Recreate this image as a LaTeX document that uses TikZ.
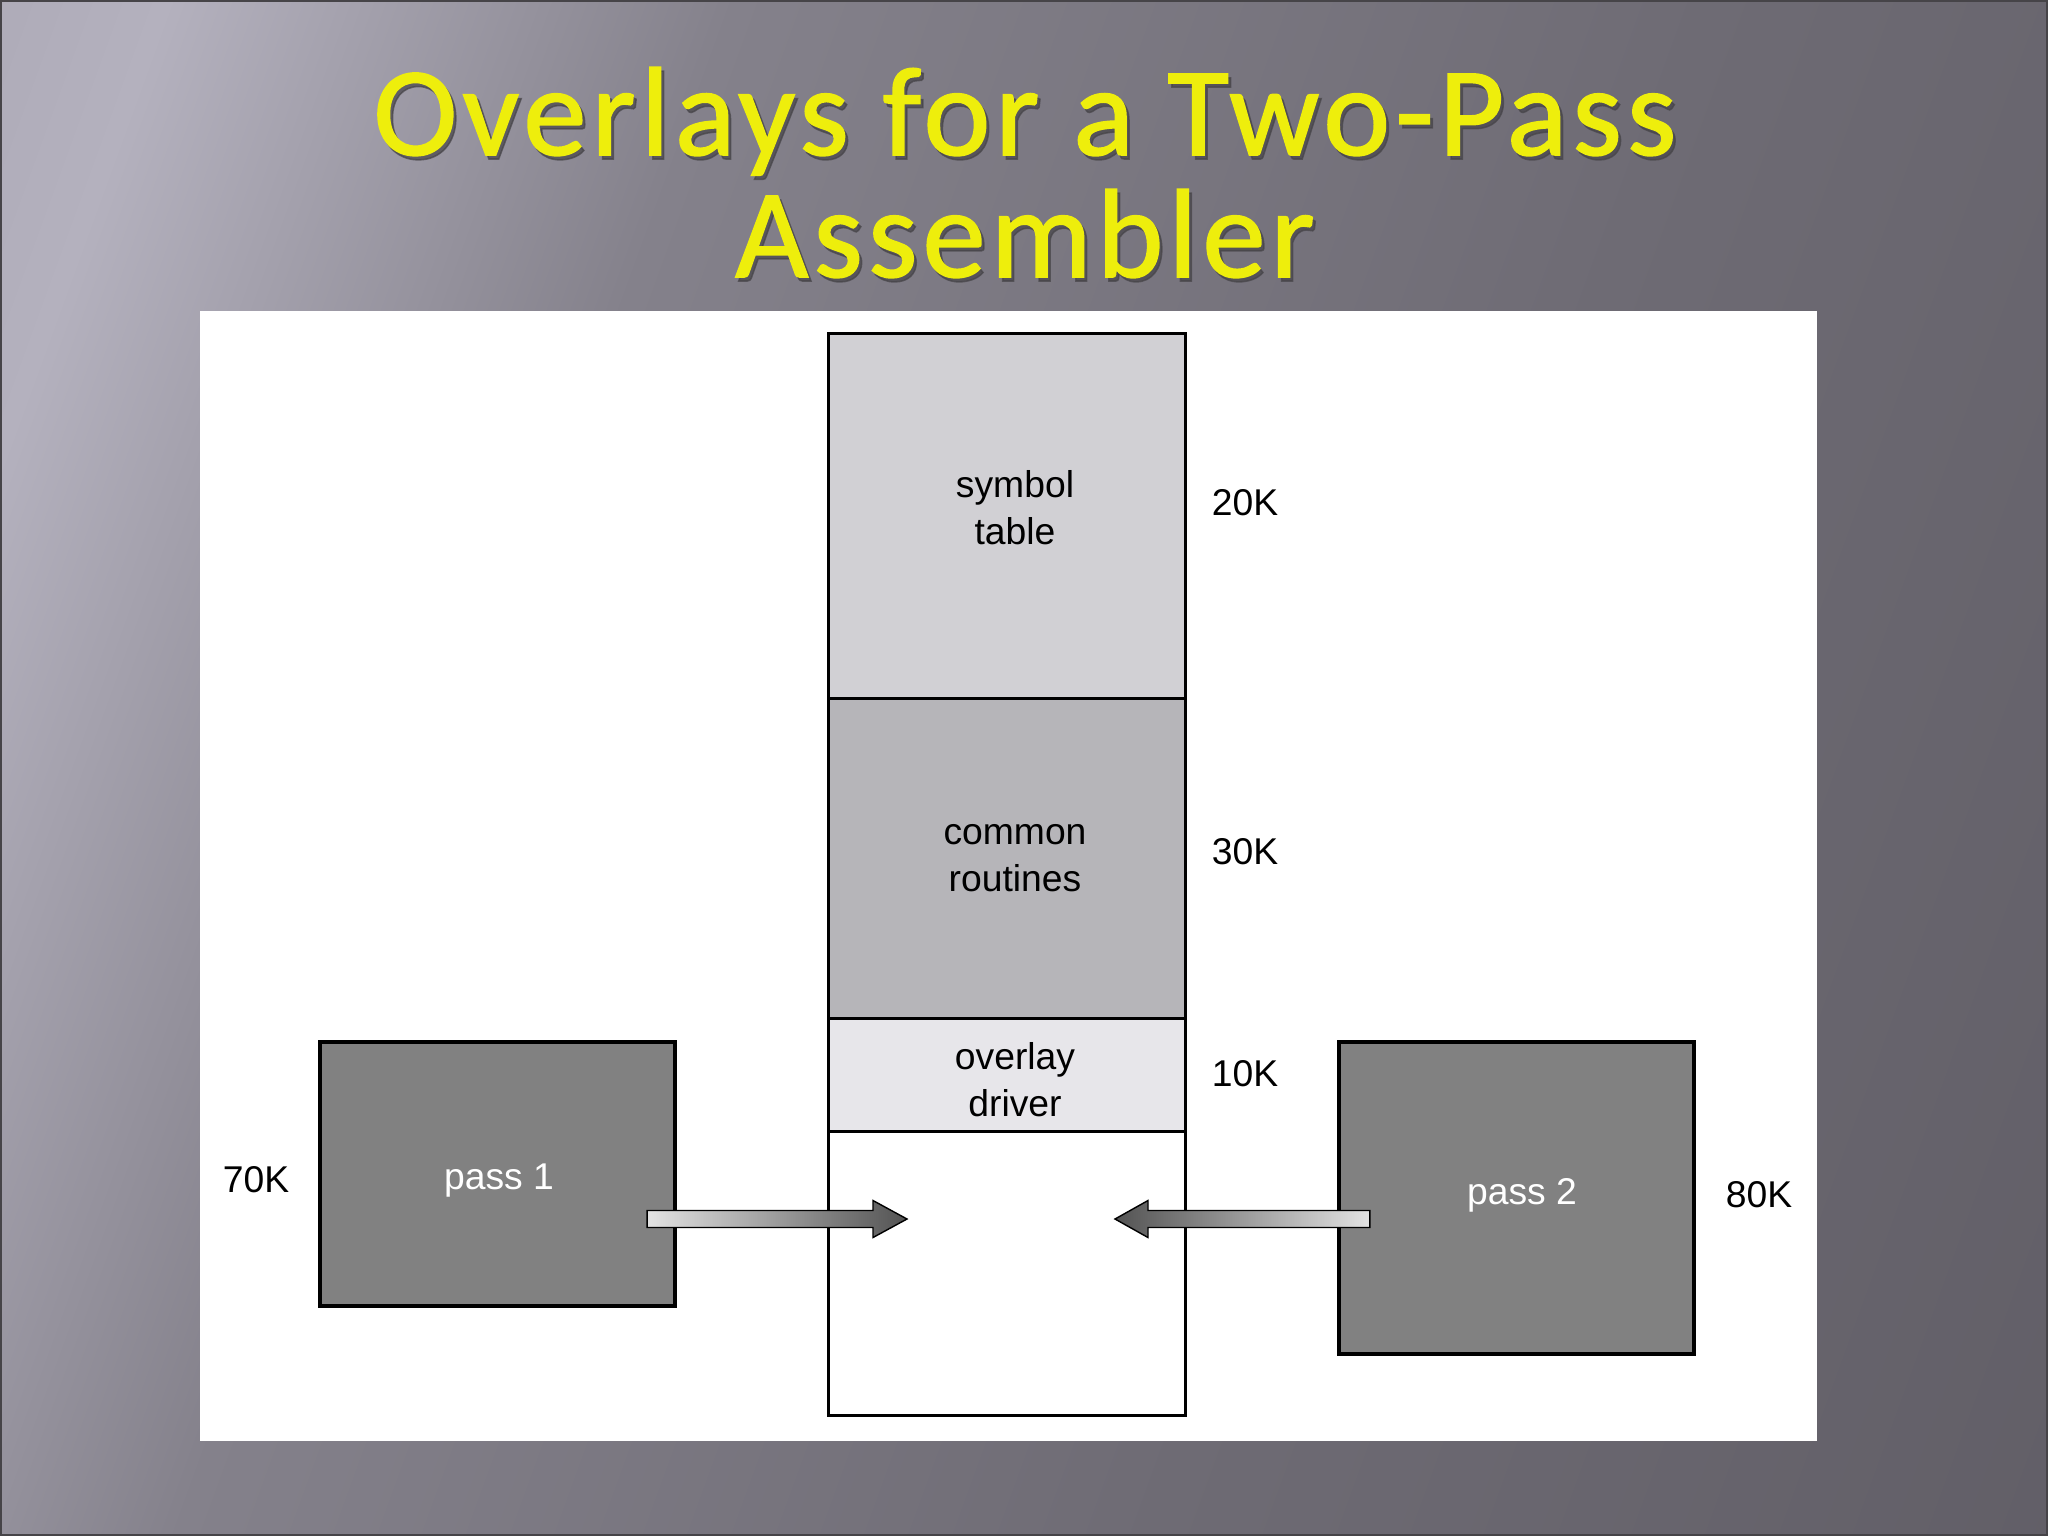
\documentclass[tikz,border=0pt]{standalone}
\usepackage{fontspec}
\setmainfont{Liberation Sans}
\newfontfamily\titlefont[LetterSpace=4,FakeBold=1.2]{Carlito}
\usetikzlibrary{calc}
\definecolor{bgA}{RGB}{150,147,160}
\definecolor{bgB}{RGB}{180,177,190}
\definecolor{bgC}{RGB}{132,129,139}
\definecolor{bgD}{RGB}{110,107,116}
\definecolor{bgE}{RGB}{88,85,93}
\definecolor{symcol}{RGB}{209,208,212}
\definecolor{comcol}{RGB}{182,181,185}
\definecolor{ovlcol}{RGB}{231,230,234}
\definecolor{passcol}{RGB}{129,129,129}
\definecolor{ttlyellow}{RGB}{238,238,12}
\definecolor{ttlshadow}{RGB}{70,68,72}
\pgfdeclarehorizontalshading{bgsh}{100bp}{color(0bp)=(bgA); color(22bp)=(bgB); color(36bp)=(bgC); color(60bp)=(bgD); color(100bp)=(bgE)}
\tikzset{
  seg/.style={draw=black, line width=0.85pt, minimum width=3.56cm, inner sep=0pt, outer sep=0pt},
  passbox/.style={draw=black, line width=1pt, fill=passcol, minimum width=3.55cm, inner sep=0pt, outer sep=0pt},
  lbl/.style={font=\fontsize{10.6}{13.4}\selectfont, align=center, text=black, inner sep=0pt},
  ttl/.style={font=\titlefont\fontsize{36}{40}\selectfont, anchor=base, inner sep=0pt},
  bigarrow/.style={draw=black, line width=0.4pt}
}
\begin{document}
\begin{tikzpicture}[x=0.01cm,y=-0.01cm]
\useasboundingbox (0,0) rectangle (2048,1536);
% background
\shade[shading=bgsh, shading angle=-20] (0,0) rectangle (2048,1536);
\draw[line width=0.6pt, ttlshadow] (1,1) rectangle (2047,1535);
% title
\node[ttl, text=ttlshadow, opacity=0.7] at (1028,159) {Overlays for a Two-Pass};
\node[ttl, text=ttlshadow, opacity=0.7] at (1028,281) {Assembler};
\node[ttl, text=ttlyellow] (t1) at (1025,155) {Overlays for a Two-Pass};
\node[ttl, text=ttlyellow] (t2) at (1025,277) {Assembler};
% white panel
\fill[white] (200,311) rectangle (1817,1441);
% memory column
\node[seg, fill=symcol, minimum height=3.65cm] (sym) at (1007,516.5) {};
\node[seg, fill=comcol, minimum height=3.20cm] (com) at (1007,859) {};
\node[seg, fill=ovlcol, minimum height=1.13cm] (ovl) at (1007,1075.5) {};
\node[seg, fill=white, minimum height=2.83cm] (free) at (1007,1273.5) {};
\node[lbl] (symt) at (1015,508) {symbol\\table};
\node[lbl] (comt) at (1015,858) {common\\routines};
\node[lbl] (ovlt) at (1015,1080) {overlay\\driver};
\node[lbl] (k20) at (1245,503) {20K};
\node[lbl] (k30) at (1245,852) {30K};
\node[lbl] (k10) at (1245,1074) {10K};
% pass boxes
\node[passbox, minimum height=2.64cm] (p1) at (497.5,1174) {};
\node[lbl, text=white] (p1t) at (499,1181) {pass 1};
\node[passbox, minimum height=3.12cm] (p2) at (1516.5,1198) {};
\node[lbl, text=white] (p2t) at (1522,1195) {pass 2};
\node[lbl] (k70) at (256,1180) {70K};
\node[lbl] (k80) at (1759,1195) {80K};
% arrows
\coordinate (a1s) at ($(p1.east)+(-28,45)$);
\coordinate (a1e) at (907,1219);
\coordinate (a2s) at ($(p2.west)+(31,21)$);
\coordinate (a2e) at (1115,1219);
\shade[bigarrow, left color=gray!22, right color=gray!65!black]
  ($(a1s)+(0,-8.5)$) -- ($(a1e)+(-34,-8.5)$) -- ($(a1e)+(-34,-18.5)$) -- (a1e)
  -- ($(a1e)+(-34,18.5)$) -- ($(a1e)+(-34,8.5)$) -- ($(a1s)+(0,8.5)$) -- cycle;
\shade[bigarrow, right color=gray!22, left color=gray!65!black]
  ($(a2s)+(0,-8.5)$) -- ($(a2e)+(33,-8.5)$) -- ($(a2e)+(33,-18.5)$) -- (a2e)
  -- ($(a2e)+(33,18.5)$) -- ($(a2e)+(33,8.5)$) -- ($(a2s)+(0,8.5)$) -- cycle;
\end{tikzpicture}
\end{document}
